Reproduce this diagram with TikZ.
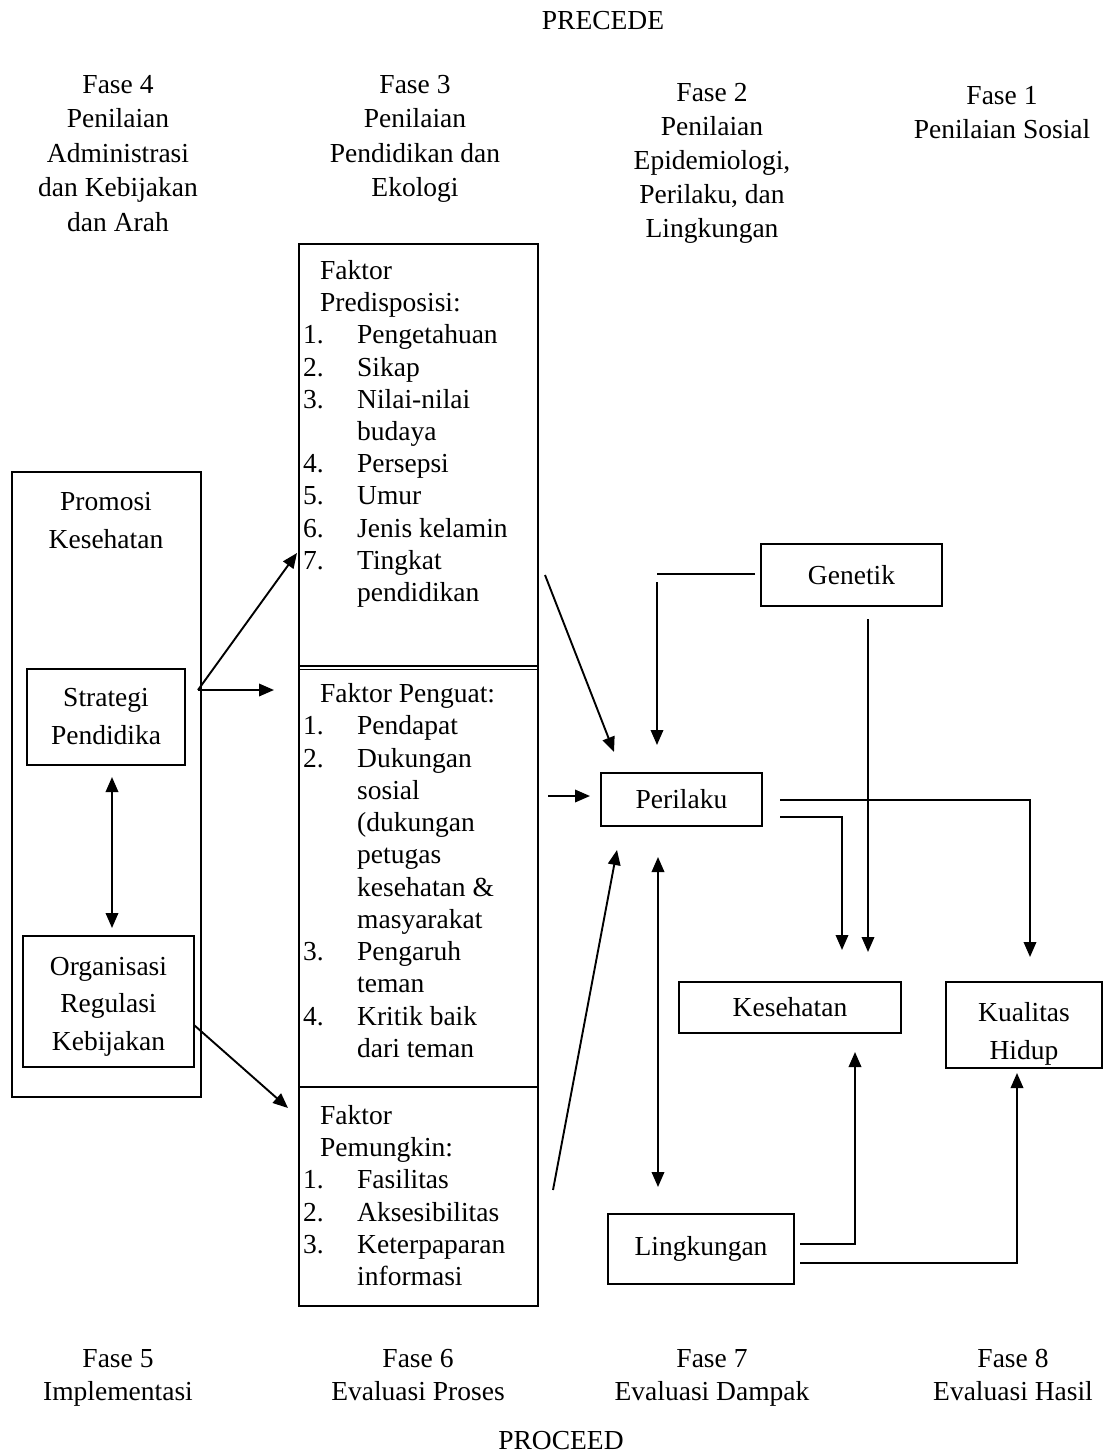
\documentclass[tikz,border=0pt]{standalone}
\usepackage{fontspec}
\setmainfont{Liberation Serif}
\usetikzlibrary{arrows.meta}
\newcommand\myfs{\fontsize{27.5}{33}\selectfont}
\newcommand\myfsb{\fontsize{27.5}{38}\selectfont}
\begin{document}
\begin{tikzpicture}[x=1pt,y=-1pt,
  txt/.style={anchor=base, inner sep=0pt, font=\myfs},
  ltxt/.style={anchor=base west, inner sep=0pt, font=\myfs},
  box/.style={draw, line width=1.9pt, inner sep=0pt, align=center, font=\myfsb},
  ln/.style={line width=1.9pt},
  arr/.style={line width=1.9pt, -{Triangle[length=15pt,width=12.5pt]}},
  darr/.style={line width=1.9pt, {Triangle[length=15pt,width=12.5pt]}-{Triangle[length=15pt,width=12.5pt]}}]
\useasboundingbox[fill=white] (0,0) rectangle (1110,1454);

% headings
\node[txt] (precede) at (603,29) {PRECEDE};
\node[txt] (f4a) at (118,93) {Fase 4};
\node[txt] (f4b) at (118,127.5) {Penilaian};
\node[txt] (f4c) at (118,162) {Administrasi};
\node[txt] (f4d) at (118,196.5) {dan Kebijakan};
\node[txt] (f4e) at (118,231) {dan Arah};
\node[txt] (f3a) at (415,93) {Fase 3};
\node[txt] (f3b) at (415,127.5) {Penilaian};
\node[txt] (f3c) at (415,162) {Pendidikan dan};
\node[txt] (f3d) at (415,196.5) {Ekologi};
\node[txt] (f2a) at (712,101) {Fase 2};
\node[txt] (f2b) at (712,135) {Penilaian};
\node[txt] (f2c) at (712,169) {Epidemiologi,};
\node[txt] (f2d) at (712,203) {Perilaku, dan};
\node[txt] (f2e) at (712,237) {Lingkungan};
\node[txt] (f1a) at (1002,104) {Fase 1};
\node[txt] (f1b) at (1002,138) {Penilaian Sosial};

% bottom labels
\node[txt] (f5a) at (118,1367) {Fase 5};
\node[txt] (f5b) at (118,1400) {Implementasi};
\node[txt] (f6a) at (418,1367) {Fase 6};
\node[txt] (f6b) at (418,1400) {Evaluasi Proses};
\node[txt] (f7a) at (712,1367) {Fase 7};
\node[txt] (f7b) at (712,1400) {Evaluasi Dampak};
\node[txt] (f8a) at (1013,1367) {Fase 8};
\node[txt] (f8b) at (1013,1400) {Evaluasi Hasil};
\node[txt] (proceed) at (561,1449) {PROCEED};

% left column
\node[box, minimum width=189pt, minimum height=625pt] (promo) at (106.5,784.5) {};
\node[txt] (pk1) at (106,510) {Promosi};
\node[txt] (pk2) at (106,548) {Kesehatan};
\node[box, minimum width=158pt, minimum height=96pt] (strat) at (106,717) {Strategi\\Pendidika};
\node[box, minimum width=171pt, minimum height=131pt] (org) at (108.5,1001.5) {};
\node[txt] (org1) at (108.5,975) {Organisasi};
\node[txt] (org2) at (108.5,1012.5) {Regulasi};
\node[txt] (org3) at (108.5,1050) {Kebijakan};

% middle column
\node[box, minimum width=239pt, minimum height=1062pt] (mid) at (418.5,775) {};
\draw[line width=1.1pt] (299,666) -- (538,666);
\draw[line width=1.1pt] (299,669.5) -- (538,669.5);
\draw[ln] (299,1087) -- (538,1087);

\node[ltxt] (a0) at (320,279) {Faktor};
\node[ltxt] (a00) at (320,311) {Predisposisi:};
\node[ltxt] (an1) at (303,343) {1.};
\node[ltxt] (at1) at (357,343) {Pengetahuan};
\node[ltxt] (an2) at (303,376) {2.};
\node[ltxt] (at2) at (357,376) {Sikap};
\node[ltxt] (an3) at (303,408) {3.};
\node[ltxt] (at3) at (357,408) {Nilai-nilai};
\node[ltxt] (at3b) at (357,440) {budaya};
\node[ltxt] (an4) at (303,472) {4.};
\node[ltxt] (at4) at (357,472) {Persepsi};
\node[ltxt] (an5) at (303,504) {5.};
\node[ltxt] (at5) at (357,504) {Umur};
\node[ltxt] (an6) at (303,537) {6.};
\node[ltxt] (at6) at (357,537) {Jenis kelamin};
\node[ltxt] (an7) at (303,569) {7.};
\node[ltxt] (at7) at (357,569) {Tingkat};
\node[ltxt] (at7b) at (357,601) {pendidikan};

\node[ltxt] (b0) at (320,702) {Faktor Penguat:};
\node[ltxt] (bn1) at (303,734) {1.};
\node[ltxt] (bt1) at (357,734) {Pendapat};
\node[ltxt] (bn2) at (303,767) {2.};
\node[ltxt] (bt2) at (357,767) {Dukungan};
\node[ltxt] (bt2b) at (357,799) {sosial};
\node[ltxt] (bt2c) at (357,831) {(dukungan};
\node[ltxt] (bt2d) at (357,863) {petugas};
\node[ltxt] (bt2e) at (357,896) {kesehatan \&};
\node[ltxt] (bt2f) at (357,928) {masyarakat};
\node[ltxt] (bn3) at (303,960) {3.};
\node[ltxt] (bt3) at (357,960) {Pengaruh};
\node[ltxt] (bt3b) at (357,992) {teman};
\node[ltxt] (bn4) at (303,1025) {4.};
\node[ltxt] (bt4) at (357,1025) {Kritik baik};
\node[ltxt] (bt4b) at (357,1057) {dari teman};

\node[ltxt] (c0) at (320,1124) {Faktor};
\node[ltxt] (c00) at (320,1156) {Pemungkin:};
\node[ltxt] (cn1) at (303,1188) {1.};
\node[ltxt] (ct1) at (357,1188) {Fasilitas};
\node[ltxt] (cn2) at (303,1221) {2.};
\node[ltxt] (ct2) at (357,1221) {Aksesibilitas};
\node[ltxt] (cn3) at (303,1253) {3.};
\node[ltxt] (ct3) at (357,1253) {Keterpaparan};
\node[ltxt] (ct3b) at (357,1285) {informasi};

% right side boxes
\node[box, minimum width=181pt, minimum height=62pt] (gen) at (851.5,575) {Genetik};
\node[box, minimum width=161pt, minimum height=53pt] (peri) at (681.5,799.5) {Perilaku};
\node[box, minimum width=222pt, minimum height=51pt] (kes) at (790,1007.5) {Kesehatan};
\node[box, minimum width=156pt, minimum height=86pt] (kual) at (1024,1025) {};
\node[txt] (kual1) at (1024,1021) {Kualitas};
\node[txt] (kual2) at (1024,1059) {Hidup};
\node[box, minimum width=186pt, minimum height=70pt] (ling) at (701,1249) {Lingkungan};

% connector end points
\coordinate (sA) at (198,690);
\coordinate (tA1) at (297,553);
\coordinate (tA2) at (274,690);
\coordinate (oA) at (194,1025);
\coordinate (tO) at (288,1108);
\coordinate (vU) at (112,777);
\coordinate (vD) at (112,928);
\coordinate (pr1) at (545,575);
\coordinate (pr1t) at (614,752);
\coordinate (pg1) at (548,796);
\coordinate (pg1t) at (590,796);
\coordinate (pm1) at (553,1190);
\coordinate (pm1t) at (617,850);
\coordinate (g1) at (755,574);
\coordinate (g2) at (657,574);
\coordinate (g3) at (657,582);
\coordinate (g4) at (657,745);
\coordinate (g5) at (868,619);
\coordinate (g6) at (868,952);
\coordinate (b1) at (780,800);
\coordinate (b1t) at (1030,957);
\coordinate (b2) at (780,817);
\coordinate (b2t) at (842,950);
\coordinate (v1) at (658,857);
\coordinate (v2) at (658,1187);
\coordinate (l1) at (800,1244);
\coordinate (l1t) at (855,1052);
\coordinate (l2) at (800,1263);
\coordinate (l2t) at (1017,1073);

% connectors
\draw[arr] (sA) -- (tA1);
\draw[arr] (sA) -- (tA2);
\draw[arr] (oA) -- (tO);
\draw[darr] (vU) -- (vD);
\draw[arr] (pr1) -- (pr1t);
\draw[arr] (pg1) -- (pg1t);
\draw[arr] (pm1) -- (pm1t);
\draw[ln] (g1) -- (g2);
\draw[arr] (g3) -- (g4);
\draw[arr] (g5) -- (g6);
\draw[arr] (b1) -| (b1t);
\draw[arr] (b2) -| (b2t);
\draw[darr] (v1) -- (v2);
\draw[arr] (l1) -| (l1t);
\draw[arr] (l2) -| (l2t);
\end{tikzpicture}
\end{document}
